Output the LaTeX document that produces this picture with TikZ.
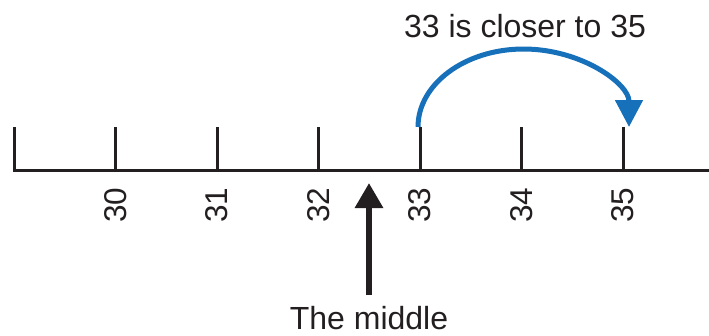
\documentclass[tikz,border=0pt]{standalone}
\usepackage{fontspec}
\setmainfont{Liberation Sans}
\usetikzlibrary{arrows.meta}
\definecolor{arcblue}{RGB}{23,112,186}
\definecolor{inkblack}{RGB}{35,31,32}
\begin{document}
\begin{tikzpicture}[x=1pt,y=-1pt,
  axisline/.style={line width=3pt, draw=inkblack, line join=miter},
  tickmark/.style={line width=3pt, draw=inkblack},
  numlabel/.style={rotate=90, inner sep=0pt, font=\fontsize{31.5}{36}\selectfont, text=inkblack},
  caption/.style={inner sep=0pt, anchor=base, font=\fontsize{32}{38}\selectfont, text=inkblack},
  midarrow/.style={line width=6pt, draw=inkblack, -{Triangle[width=27pt,length=25pt]}},
  jumparrow/.style={line width=5pt, draw=arcblue, -{Triangle[width=27pt,length=27pt]}}]
\useasboundingbox (0,0) rectangle (709,335);
% axis
\coordinate (ltop) at (14,127);
\coordinate (rend) at (709,170.5);
\draw[axisline] (ltop) |- (rend);
% ticks and labels
\foreach \n/\x in {30/115.5,31/217,32/318.5,33/420,34/521.5,35/623}{
  \coordinate (t\n) at (\x,127);
  \coordinate (b\n) at (\x,170);
  \draw[tickmark] (t\n) -- (b\n);
  \node[numlabel] (l\n) at (\x,205) {\n};
}
% middle arrow
\coordinate (mbot) at (369,295);
\coordinate (mtip) at (369,183);
\draw[midarrow] (mbot) -- (mtip);
\node[caption] (mid) at (369,329) {The middle};
% blue jump arc
\coordinate (astart) at (418,127);
\draw[jumparrow] (astart) arc[start angle=180, end angle=0, x radius=105.5pt, y radius=78pt];
\node[caption] (closer) at (525,37) {33 is closer to 35};
\end{tikzpicture}
\end{document}
